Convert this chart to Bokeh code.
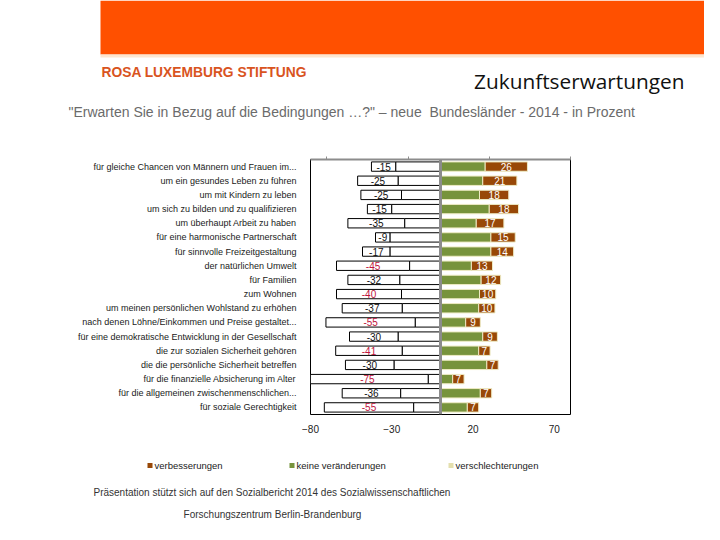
from bokeh.plotting import figure
from bokeh.models import (ColumnDataSource, FactorRange, LinearAxis, FixedTicker, Span, Range1d)
from bokeh.core.properties import value
from bokeh.embed import file_html
from bokeh.resources import INLINE

categories = [
    "für gleiche Chancen von Männern und Frauen im...",
    "um ein gesundes Leben zu führen",
    "um mit Kindern zu leben",
    "um sich zu bilden und zu qualifizieren",
    "um überhaupt Arbeit zu haben",
    "für eine harmonische Partnerschaft",
    "für sinnvolle Freizeitgestaltung",
    "der natürlichen Umwelt",
    "für Familien",
    "zum Wohnen",
    "um meinen persönlichen Wohlstand zu erhöhen",
    "nach denen Löhne/Einkommen und Preise gestaltet...",
    "für eine demokratische Entwicklung in der Gesellschaft",
    "die zur sozialen Sicherheit gehören",
    "die die persönliche Sicherheit betreffen",
    "für die finanzielle Absicherung im Alter",
    "für die allgemeinen zwischenmenschlichen...",
    "für soziale Gerechtigkeit",
]
verschlechterungen = [15, 25, 25, 15, 35, 9, 17, 45, 32, 40, 37, 55, 30, 41, 30, 75, 36, 55]
keine_veraenderungen = [55, 52, 48, 60, 44, 62, 62, 38, 50, 48, 47, 31, 52, 47, 57, 15, 49, 33]
verbesserungen = [26, 21, 18, 18, 17, 15, 14, 13, 12, 10, 10, 9, 9, 7, 7, 7, 7, 7]
bottom_ticks = [-80, -30, 20, 70]
top_ticks = [-70, -20, 30, 80]
series_names = ["verbesserungen", "keine veränderungen", "verschlechterungen"]

BROWN = "#984807"
GREEN = "#77933C"
PALE = "#EEEBC4"
PALE_LEG = "#E4DFAE"
SANS = "Liberation Sans"
W = 704


def blank_fig(h):
    f = figure(width=W, height=h, output_backend="svg", toolbar_location=None,
               x_range=Range1d(0, W), y_range=Range1d(h, 0),
               x_axis_location=None, y_axis_location=None,
               min_border=0, min_border_left=0, min_border_right=0,
               min_border_top=0, min_border_bottom=0)
    f.grid.visible = False
    f.outline_line_color = None
    f.background_fill_color = "white"
    f.border_fill_color = "white"
    return f


# ---------------- header ----------------
HH = 140
head = blank_fig(HH)
head.quad(left=[100], right=[W], top=[0], bottom=[54], fill_color="#FF5000", line_color=None)
head.quad(left=[100], right=[W], top=[54], bottom=[57], fill_color="#FDE6CF", line_color=None)
head.text(x=[101], y=[72], text=["ROSA LUXEMBURG STIFTUNG"], text_font=value(SANS),
          text_font_style="bold", text_font_size="13.8px", text_color="#D9541E",
          text_baseline="middle")
head.text(x=[684], y=[80], text=["Zukunftserwartungen"], text_font=value("Open Sans"),
          text_font_size="20.8px", text_color="#111111", text_align="right",
          text_baseline="middle")
head.text(x=[68], y=[111],
          text=["\"Erwarten Sie in Bezug auf die Bedingungen \u2026?\" \u2013 neue\u00a0 Bundesländer - 2014 - in Prozent"],
          text_font=value(SANS), text_font_size="14px", text_color="#6B6B6B",
          text_baseline="middle")

# ---------------- main chart ----------------
half = [k / 2 for k in keine_veraenderungen]
src = ColumnDataSource(dict(
    cat=categories,
    v_left=[-(h + v) for h, v in zip(half, verschlechterungen)],
    h_left=[-h for h in half],
    zero=[0] * len(categories),
    h_right=half,
    b_right=[h + b for h, b in zip(half, verbesserungen)],
    v_mid=[-(h + v / 2) for h, v in zip(half, verschlechterungen)],
    b_mid=[h + b / 2 for h, b in zip(half, verbesserungen)],
    v_txt=[f"-{v}" for v in verschlechterungen],
    b_txt=[str(b) for b in verbesserungen],
    v_col=["#C0143C" if v >= 40 else "#111111" for v in verschlechterungen],
))

MH = 300
p = figure(width=W, height=MH, output_backend="svg", toolbar_location=None,
           y_range=FactorRange(factors=categories[::-1]),
           x_range=Range1d(-80, 80),
           min_border_left=310, min_border_right=W - 570, min_border_top=19, min_border_bottom=26,
           x_axis_location=None)
p.grid.visible = False
p.outline_line_color = "black"
p.outline_line_width = 1
p.background_fill_color = "white"
p.border_fill_color = "white"

bh = 0.66
p.hbar(y="cat", left="v_left", right="h_left", height=bh, source=src,
       fill_color="white", line_color="black", line_width=1)
p.hbar(y="cat", left="h_left", right="zero", height=bh, source=src,
       fill_color="white", line_color="black", line_width=1)
p.hbar(y="cat", left="zero", right="h_right", height=bh, source=src,
       fill_color=GREEN, line_color=PALE, line_width=1)
p.hbar(y="cat", left="h_right", right="b_right", height=bh, source=src,
       fill_color=BROWN, line_color=PALE, line_width=1)

p.text(x="v_mid", y="cat", text="v_txt", source=src, text_color="v_col",
       text_align="center", text_baseline="middle", text_font=value(SANS),
       text_font_size="10px")
p.text(x="b_mid", y="cat", text="b_txt", source=src, text_color="white",
       text_align="center", text_baseline="middle", text_font=value(SANS),
       text_font_size="10px")

p.add_layout(Span(location=0, dimension="height", line_color="#8C8C8C", line_width=3))

ya = p.yaxis[0]
ya.axis_line_color = None
ya.major_tick_line_color = None
ya.minor_tick_line_color = None
ya.major_label_standoff = 8
ya.major_label_text_font = SANS
ya.major_label_text_font_size = "9px"
ya.major_label_text_color = "#1a1a1a"

top = LinearAxis(ticker=FixedTicker(ticks=top_ticks))
top.axis_line_color = "#8C8C8C"
top.axis_line_width = 2
top.major_tick_line_color = "#8C8C8C"
top.major_tick_out = 3
top.major_tick_in = 0
top.minor_tick_line_color = None
top.major_label_text_font_size = "0px"
top.major_label_text_color = None
p.add_layout(top, "above")

bot = LinearAxis(ticker=FixedTicker(ticks=bottom_ticks))
bot.axis_line_color = None
bot.major_tick_line_color = None
bot.minor_tick_line_color = None
bot.major_label_standoff = 4
bot.major_label_text_font = SANS
bot.major_label_text_font_size = "10px"
bot.major_label_text_color = "#222222"
p.add_layout(bot, "below")

# ---------------- footer (legend + source) ----------------
FH = 524 - HH - MH
foot = blank_fig(FH)
y0 = HH + MH
leg_x = [147, 289, 448]
leg_col = [BROWN, GREEN, PALE_LEG]
foot.quad(left=[x for x in leg_x], right=[x + 5 for x in leg_x],
          top=[465 - y0 - 2.5] * 3, bottom=[465 - y0 + 2.5] * 3,
          fill_color=leg_col, line_color=None)
foot.text(x=[x + 7 for x in leg_x], y=[465 - y0] * 3, text=series_names,
          text_font=value(SANS), text_font_size="9.5px", text_color="#222222",
          text_baseline="middle")
foot.text(x=[93], y=[492 - y0],
          text=["Präsentation stützt sich auf den Sozialbericht 2014 des Sozialwissenschaftlichen"],
          text_font=value(SANS), text_font_size="10px", text_color="#333333",
          text_baseline="middle")
foot.text(x=[272], y=[514 - y0], text=["Forschungszentrum Berlin-Brandenburg"],
          text_font=value(SANS), text_font_size="10px", text_color="#333333",
          text_baseline="middle", text_align="center")

open("out.html", "w").write(file_html([head, p, foot], INLINE))
